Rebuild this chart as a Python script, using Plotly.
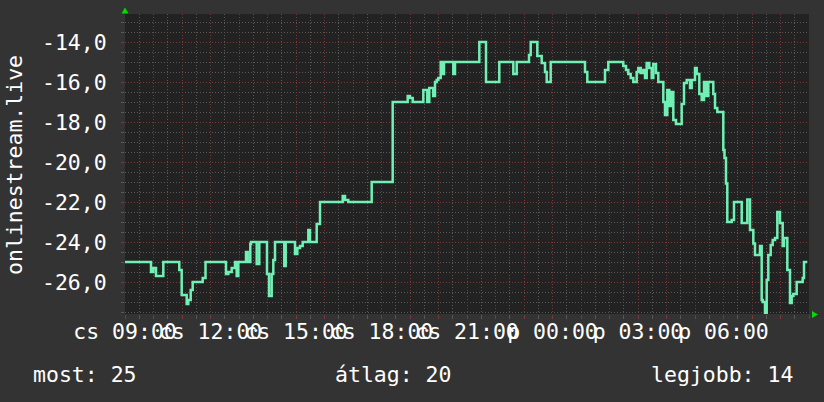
import plotly.graph_objects as go

# ---- data ----
# hours since Thursday 09:00, and rank value (plotted negative)
hours = [0.000, 0.912, 0.993, 1.088, 1.344, 1.905, 1.989, 2.165, 2.221, 2.305,
         2.375, 2.726, 2.825, 3.544, 3.625, 3.744, 3.860, 3.919, 3.975, 4.246,
         4.305, 4.396, 4.421, 4.621, 4.712, 4.982, 5.053, 5.147, 5.204, 5.263,
         5.589, 5.639, 5.965, 6.046, 6.140, 6.235, 6.432, 6.491, 6.726, 6.842,
         7.639, 7.719, 7.835, 8.656, 9.393, 9.919, 10.000, 10.095, 10.467, 10.607,
         10.677, 10.817, 10.877, 10.937, 10.993, 11.077, 11.147, 11.193, 11.519, 11.579,
         12.432, 12.667, 13.133, 13.625, 13.744, 14.175, 14.235, 14.467, 14.621, 14.737,
         14.796, 14.937, 16.140, 16.221, 16.842, 16.958, 17.484, 17.579, 17.660, 17.744,
         17.835, 17.954, 18.011, 18.095, 18.186, 18.246, 18.305, 18.396, 18.481, 18.537,
         18.632, 18.712, 18.888, 18.947, 19.028, 19.098, 19.182, 19.239, 19.333, 19.533,
         19.614, 19.709, 19.825, 19.884, 20.000, 20.060, 20.151, 20.235, 20.316, 20.386,
         20.467, 20.642, 20.702, 20.782, 20.993, 21.035, 21.088, 21.133, 21.288, 21.368,
         21.639, 21.835, 21.930, 22.046, 22.105, 22.281, 22.340, 22.375, 22.456, 22.516,
         22.572, 22.656, 22.726, 22.807, 22.888, 22.982, 23.077, 23.123, 23.239, 23.333,
         23.393, 23.449, 23.568, 23.779, 23.825, 23.940]
rank = [25, 25.5, 25.3, 25.7, 25, 25.4, 26.65, 27.1, 26.9, 26.4,
        26.0, 25.8, 25, 25.6, 25.5, 25.3, 25, 25.7, 25, 24.5,
        25, 24.1, 24, 25.1, 24, 25.6, 26.7, 25.6, 24.9, 24,
        25.2, 24, 24.6, 24.3, 24.2, 24, 23.4, 24, 23.1, 22,
        21.7, 21.9, 22, 21, 17, 16.7, 16.8, 17, 16.4, 17,
        16.3, 16.7, 16, 15.9, 15.8, 15, 15.6, 15, 15.6, 15,
        14, 16, 15, 15.6, 15, 14.65, 14, 14.7, 15.05, 15.5,
        16, 15, 15.5, 16, 15.4, 15, 15.2, 15.4, 15.6, 15.8,
        16, 15.5, 15.3, 15.55, 15.4, 15.8, 15.05, 15.3, 15.8, 15.1,
        15.55, 16, 17, 17.65, 16.4, 17.2, 16.5, 17.9, 18.1, 17.1,
        16.05, 15.9, 16.3, 15.9, 15.3, 15.6, 16.6, 16.9, 16, 16.7,
        16, 16.6, 17.3, 17.5, 19.4, 19.8, 21.07, 23, 22.9, 22,
        23.05, 21.87, 23.4, 24.07, 24.65, 24.2, 26.9, 27.0, 27.6, 25.9,
        24.65, 24.15, 23.9, 23.8, 22.5, 23.05, 24.2, 23.8, 25.4, 27.05,
        26.7, 26.6, 26.0, 25.8, 25, 25]
values = [-r for r in rank]

x_tick_hours = list(range(0, 25))
x_label_hours = [0, 3, 6, 9, 12, 15, 18, 21]
x_labels = ["cs 09:00", "cs 12:00", "cs 15:00", "cs 18:00", "cs 21:00",
            "p 00:00", "p 03:00", "p 06:00"]
y_tick_vals = [-26, -24, -22, -20, -18, -16, -14]
y_tick_text = ["-26,0", "-24,0", "-22,0", "-20,0", "-18,0", "-16,0", "-14,0"]
series_name = "onlinestream.live"
legend_most = 25
legend_atlag = 20
legend_legjobb = 14

# ---- layout constants ----
W, H = 824, 402
L, R, T, B = 125, 15, 14, 88
PW, PH = W - L - R, H - T - B
FONT = "DejaVu Sans Mono"
FS = 21.5
MAJOR = "#7a3838"
MINOR = "#585858"
DASH = "1px,2px"


def px(xp):
    return (xp - L) / PW


def py(yp):
    return (T + PH - yp) / PH


ticktext = [x_labels[x_label_hours.index(h)] if h in x_label_hours else ""
            for h in x_tick_hours]

fig = go.Figure()
fig.add_trace(go.Scatter(x=hours, y=values, mode="lines", line_shape="hv",
                         line=dict(color="#70f0b4", width=2.5),
                         name=series_name, showlegend=False, hoverinfo="skip"))

fig.update_layout(
    width=W, height=H,
    margin=dict(l=L, r=R, t=T, b=B, pad=0, autoexpand=False),
    paper_bgcolor="#333333", plot_bgcolor="#222222",
    font=dict(family=FONT, size=FS, color="#ffffff"),
    xaxis=dict(range=[0, 24], tickmode="array", tickvals=x_tick_hours,
               ticktext=ticktext, tickangle=0, automargin=False,
               showgrid=True, gridcolor=MAJOR, griddash=DASH, gridwidth=1,
               ticks="outside", ticklen=4, tickcolor=MAJOR, tickwidth=1,
               minor=dict(dtick=0.5, tick0=0, showgrid=True, gridcolor=MINOR,
                          griddash=DASH, ticks="outside", ticklen=4,
                          tickcolor=MINOR),
               zeroline=False, showline=False, ticklabelstandoff=-6,
               tickfont=dict(family=FONT, size=FS, color="#ffffff")),
    yaxis=dict(range=[-27.6, -12.6], tickmode="array", tickvals=y_tick_vals,
               ticktext=y_tick_text, automargin=False,
               showgrid=True, gridcolor=MAJOR, griddash=DASH, gridwidth=1,
               ticks="outside", ticklen=3, tickcolor=MAJOR, tickwidth=1,
               minor=dict(dtick=0.5, tick0=0, showgrid=True, gridcolor=MINOR,
                          griddash=DASH, ticks="outside", ticklen=3,
                          tickcolor=MINOR),
               zeroline=False, showline=False, ticklabelstandoff=10,
               tickfont=dict(family=FONT, size=FS, color="#ffffff")),
)

ann_font = dict(family=FONT, size=FS, color="#ffffff")
fig.add_annotation(x=px(14), y=py(165), xref="paper", yref="paper",
                   text=series_name, textangle=-90, showarrow=False,
                   xanchor="center", yanchor="middle", font=ann_font)
fig.add_annotation(x=px(31), y=py(374), xref="paper", yref="paper",
                   text=f"most: {legend_most}", showarrow=False,
                   xanchor="left", yanchor="middle", font=ann_font)
fig.add_annotation(x=px(333), y=py(374), xref="paper", yref="paper",
                   text=f"átlag: {legend_atlag}", showarrow=False,
                   xanchor="left", yanchor="middle", font=ann_font)
fig.add_annotation(x=px(649), y=py(374), xref="paper", yref="paper",
                   text=f"legjobb: {legend_legjobb}", showarrow=False,
                   xanchor="left", yanchor="middle", font=ann_font)

# axis arrows
top_arrow = f"M {px(125)} {py(7.5)} L {px(121.5)} {py(13.5)} L {px(128.5)} {py(13.5)} Z"
right_arrow = f"M {px(818)} {py(314.5)} L {px(812)} {py(311)} L {px(812)} {py(318)} Z"
for p in (top_arrow, right_arrow):
    fig.add_shape(type="path", path=p, xref="paper", yref="paper",
                  fillcolor="#00dd00", line=dict(width=0), layer="above")

fig.write_html("out.html", config={"displayModeBar": False},
               post_script="document.body.style.margin='0';"
                           "document.body.style.background='#333333';")
